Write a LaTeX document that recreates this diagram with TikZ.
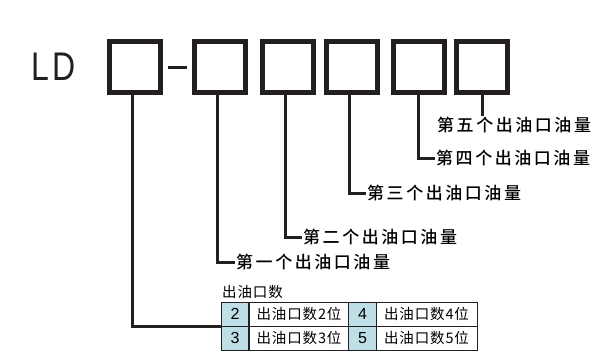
\documentclass[tikz,border=0pt]{standalone}
\usepackage{fontspec}
\setmainfont{Liberation Sans}
\newfontfamily\cjk[LetterSpace=15]{Noto Sans CJK SC Medium}
\newfontfamily\cjkcell[LetterSpace=6]{Noto Sans CJK SC}
\newfontfamily\ldfont[FakeStretch=0.8]{Liberation Sans}
\definecolor{ink}{HTML}{231F20}
\definecolor{cellblue}{HTML}{BFDFE7}
\begin{document}
\begin{tikzpicture}[x=1pt, y=-1pt,
    digitbox/.style={draw=ink, line width=5pt, minimum size=51pt, inner sep=0pt},
    lead/.style={draw=ink, line width=3pt},
    lbl/.style={anchor=west, inner sep=1pt, font=\cjk\fontsize{17}{17}\selectfont},
    cell/.style={draw=ink, line width=1pt, minimum height=24pt, inner sep=0pt, font=\cjkcell\fontsize{14.5}{15}\selectfont},
    numcell/.style={cell, fill=cellblue, minimum width=27.5pt, font=\fontsize{16}{16}\selectfont}]
  \useasboundingbox (0,0) rectangle (603,362);
  % model code
  \node[anchor=west, inner sep=0pt, text=ink] (ld) at (31,67) {\ldfont\fontsize{40}{40}\selectfont L\kern4pt D};
  \node[digitbox] (b1) at (135,66.5) {}; \draw[ink, line width=3pt] (168,67) -- (187,67);
  \node[digitbox] (b2) at (220,66.5) {};
  \node[digitbox] (b3) at (287.5,66.5) {};
  \node[digitbox] (b4) at (352,66.5) {};
  \node[digitbox] (b5) at (419,66.5) {};
  \node[digitbox] (b6) at (482,66.5) {};
  % labels
  \node[lbl] (l5) at (436,125) {第五个出油口油量};
  \node[lbl] (l4) at (435,158) {第四个出油口油量};
  \node[lbl] (l3) at (366,193) {第三个出油口油量};
  \node[lbl] (l2) at (302,237) {第二个出油口油量};
  \node[lbl] (l1) at (235,262) {第一个出油口油量};
  % outlet table
  \node[anchor=west, inner sep=1pt, font=\cjkcell\fontsize{14.5}{15}\selectfont] (ttl) at (221,292) {出油口数};
  \node[numcell] (n2) at (235,314) {2}; \node[cell, minimum width=100pt] (t2) at (299,314) {出油口数2位};
  \node[numcell] (n4) at (362.5,314) {4}; \node[cell, minimum width=101pt] (t4) at (426.5,314) {出油口数4位};
  \node[numcell] (n3) at (235,338) {3}; \node[cell, minimum width=100pt] (t3) at (299,338) {出油口数3位};
  \node[numcell] (n5) at (362.5,338) {5}; \node[cell, minimum width=101pt] (t5) at (426.5,338) {出油口数5位};
  % leads
  \draw[lead] (b6.south) -- (b6.south |- l5.north);
  \draw[lead] ([xshift=-1pt]b5.south) |- (l4.west);
  \draw[lead] ([xshift=-3pt]b4.south) |- (l3.west);
  \draw[lead] ([xshift=-2pt]b3.south) |- (l2.west);
  \draw[lead] ([xshift=-3pt]b2.south) |- (l1.west);
  \draw[lead] ([xshift=-3pt]b1.south) |- (n2.south west);
\end{tikzpicture}
\end{document}
